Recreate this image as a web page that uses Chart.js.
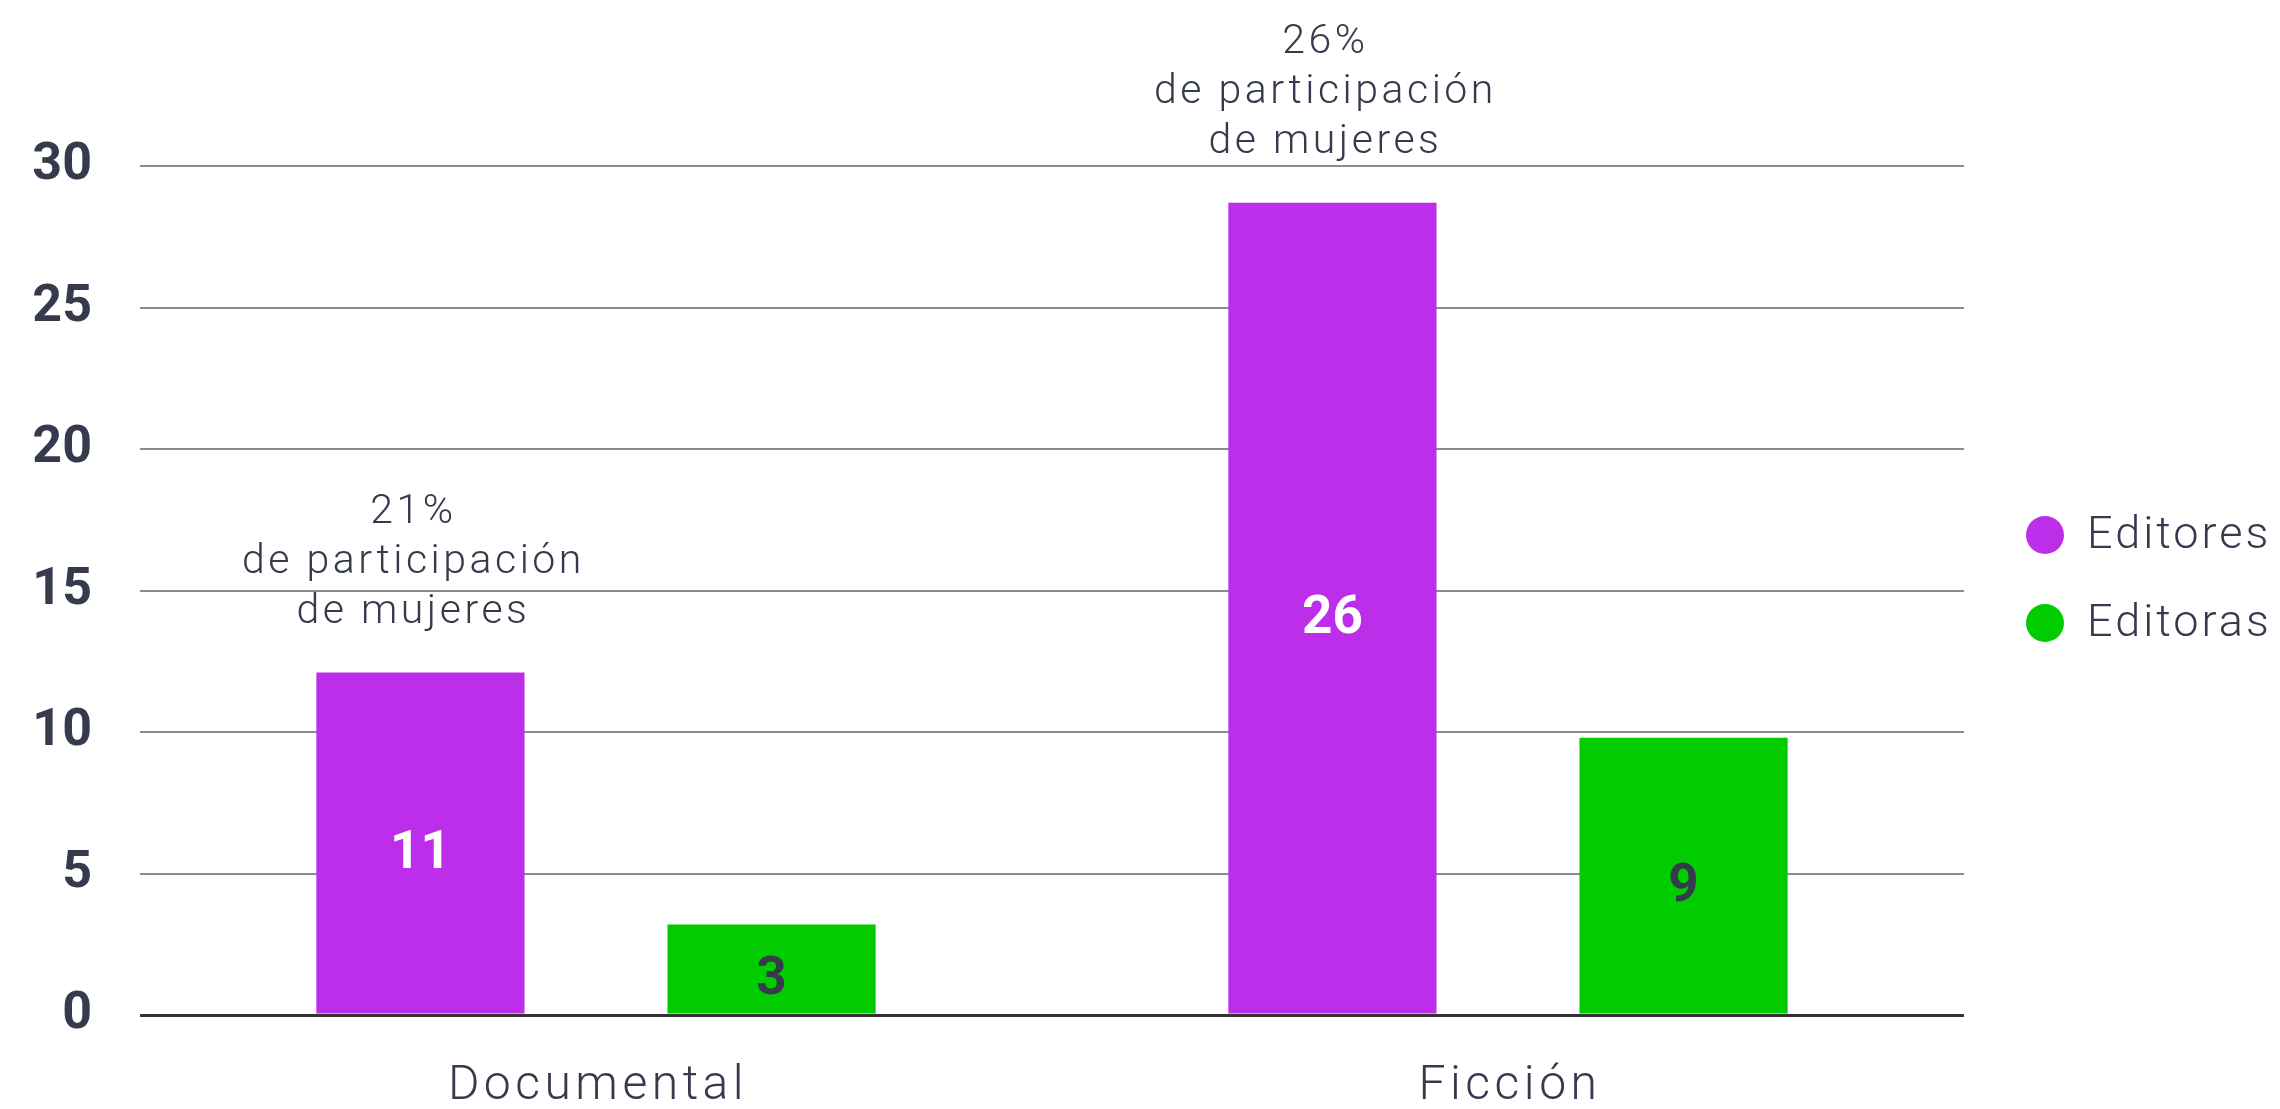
<!DOCTYPE html>
<html lang="es">
<head>
<meta charset="utf-8">
<title>Editores y editoras</title>
<script src="https://cdn.jsdelivr.net/npm/chart.js@4.4.1/dist/chart.umd.min.js"></script>
<style>
  html, body { margin: 0; padding: 0; background: #fff; }
  #wrap { width: 2280px; height: 1109px; }
</style>
</head>
<body>
<div id="wrap"><canvas id="grafica" width="2280" height="1109"></canvas></div>
<script>
// ---------- Datos ----------
const categorias = ['Documental', 'Ficción'];
const series = ['Editores', 'Editoras'];
// altura de las barras
const editores = [12.1, 28.7];
const editoras = [3.2, 9.8];
// cifras impresas dentro de las barras
const etiquetasEditores = ['11', '26'];
const etiquetasEditoras = ['3', '9'];
const participacion = ['21%', '26%'];
const ticksY = [0, 5, 10, 15, 20, 25, 30];

const colores = ['#bd2eea', '#00cc00'];
const texto = '#353a4d';
const fuente = 'Roboto';

// ---------- Plugins ----------

// Nombres de categoría bajo el eje (con espaciado de letras)
const categoriasEje = {
  id: 'categoriasEje',
  afterDraw(chart) {
    const ctx = chart.ctx;
    const x = chart.scales.x;
    ctx.save();
    ctx.font = `300 48px ${fuente}`;
    ctx.fillStyle = texto;
    ctx.textAlign = 'center';
    ctx.textBaseline = 'alphabetic';
    if ('letterSpacing' in ctx) ctx.letterSpacing = '4.5px';
    categorias.forEach((c, i) => {
      ctx.fillText(c, x.getPixelForValue(i) + 2, chart.chartArea.bottom + 84);
    });
    ctx.restore();
  }
};

// Cifras dentro de las barras y nota de participación
const etiquetas = {
  id: 'etiquetas',
  afterDatasetsDraw(chart) {
    const ctx = chart.ctx;
    ctx.save();
    ctx.textAlign = 'center';

    const textos = [etiquetasEditores, etiquetasEditoras];
    chart.data.datasets.forEach((ds, i) => {
      chart.getDatasetMeta(i).data.forEach((bar, j) => {
        ctx.font = `700 53px ${fuente}`;
        ctx.fillStyle = i === 0 ? '#ffffff' : texto;
        ctx.textBaseline = 'middle';
        ctx.fillText(textos[i][j], bar.x, (bar.y + bar.base) / 2 + 12);
      });
    });

    // nota encima de la barra de editores
    ctx.font = `300 41px ${fuente}`;
    ctx.fillStyle = texto;
    ctx.textBaseline = 'alphabetic';
    if ('letterSpacing' in ctx) ctx.letterSpacing = '3.5px';
    chart.getDatasetMeta(0).data.forEach((bar, j) => {
      const lineas = [participacion[j], 'de participación', 'de mujeres'];
      let y = bar.y - 50 - 50 * (lineas.length - 1);
      lineas.forEach(l => {
        ctx.fillText(l, bar.x - 7, y);
        y += 50;
      });
    });
    ctx.restore();
  }
};

// Leyenda a la derecha
const leyenda = {
  id: 'leyenda',
  afterDraw(chart) {
    const ctx = chart.ctx;
    const area = chart.chartArea;
    ctx.save();
    ctx.font = `300 45px ${fuente}`;
    ctx.textBaseline = 'middle';
    ctx.textAlign = 'left';
    if ('letterSpacing' in ctx) ctx.letterSpacing = '3px';
    chart.data.datasets.forEach((ds, i) => {
      const y = area.top + 369 + i * 88;
      ctx.beginPath();
      ctx.arc(area.right + 81, y, 19, 0, Math.PI * 2);
      ctx.fillStyle = ds.backgroundColor;
      ctx.fill();
      ctx.fillStyle = texto;
      ctx.fillText(ds.label, area.right + 123, y + 2);
    });
    ctx.restore();
  }
};

// ---------- Gráfica ----------

const ctx = document.getElementById('grafica').getContext('2d');

new Chart(ctx, {
  type: 'bar',
  data: {
    labels: categorias,
    datasets: [
      { label: series[0], data: editores, backgroundColor: colores[0] },
      { label: series[1], data: editoras, backgroundColor: colores[1] }
    ]
  },
  options: {
    responsive: false,
    animation: false,
    devicePixelRatio: 1,
    categoryPercentage: 0.77,
    barPercentage: 0.593,
    layout: {
      padding: { top: 166, right: 316, left: 0, bottom: 0 }
    },
    scales: {
      x: {
        grid: { display: false },
        border: { display: false },
        ticks: { display: false },
        afterFit(scale) { scale.height = 94; }
      },
      y: {
        min: 0,
        max: 30,
        afterBuildTicks(scale) {
          scale.ticks = ticksY.map(v => ({ value: v }));
        },
        border: { display: false },
        grid: {
          drawTicks: false,
          color: c => c.tick.value === 0 ? '#333333' : '#8c8c8c',
          lineWidth: c => c.tick.value === 0 ? 3 : 2
        },
        ticks: {
          color: texto,
          font: { family: fuente, size: 52, weight: '700' },
          padding: 48
        },
        afterFit(scale) { scale.width = 140; }
      }
    },
    plugins: {
      legend: { display: false },
      tooltip: { enabled: false }
    }
  },
  plugins: [etiquetas, categoriasEje, leyenda]
});
</script>
</body>
</html>
